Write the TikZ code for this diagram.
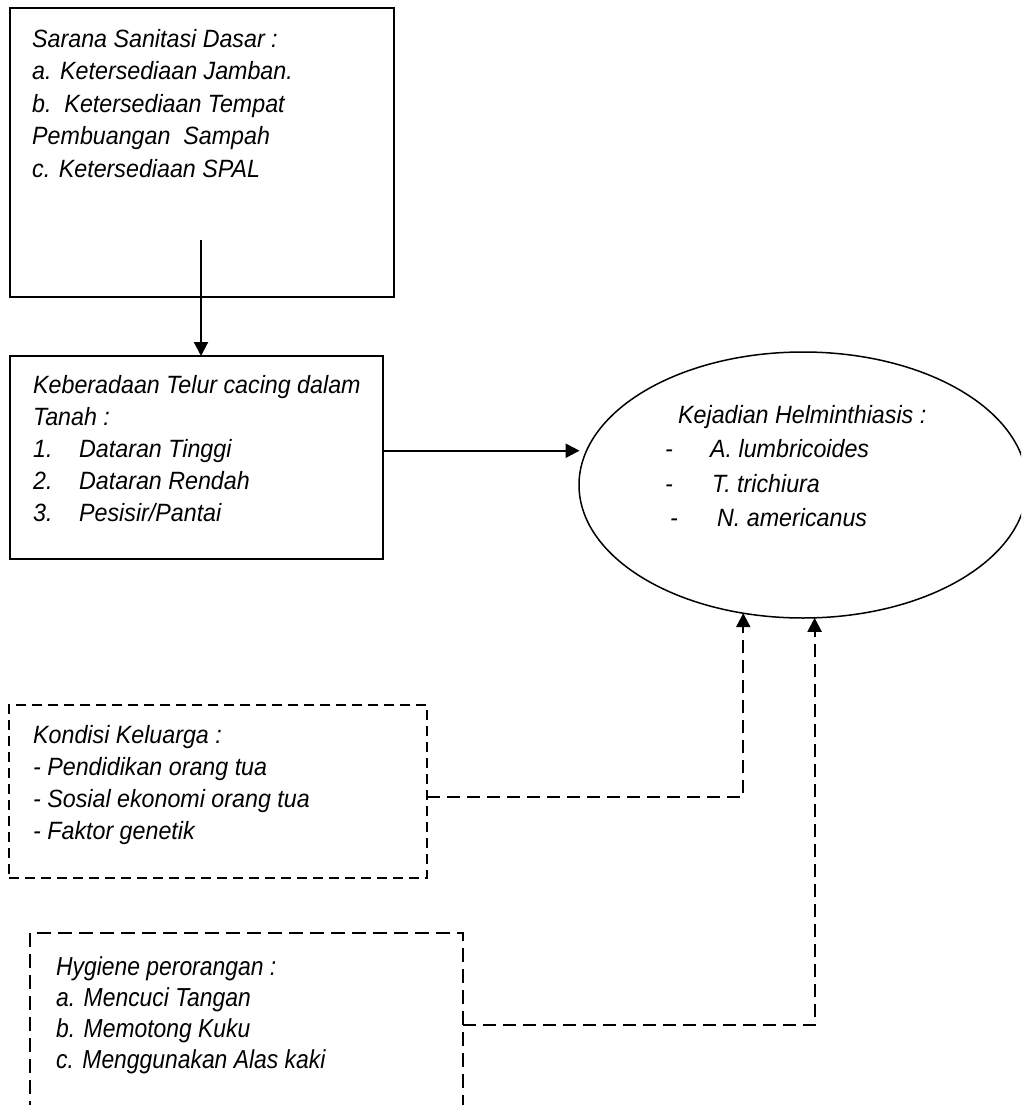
\documentclass[tikz,border=0pt]{standalone}
\usepackage{fontspec}
\setmainfont{Liberation Sans}[FakeStretch=0.93]
\newfontfamily\hyfont{Liberation Sans}[FakeStretch=0.88]
\usetikzlibrary{arrows.meta,shapes.geometric}
\begin{document}
\begin{tikzpicture}[x=1pt,y=-1pt,
  solidbox/.style={draw, line width=2.4pt, rectangle, inner sep=0pt, outer sep=0pt, anchor=north west},
  dashbox/.style={draw, line width=2.4pt, rectangle, inner sep=0pt, outer sep=0pt, anchor=north west, dash pattern=on 10pt off 6pt},
  longdashbox/.style={dashbox, dash pattern=on 14pt off 7pt},
  txt/.style={anchor=base west, align=left, inner sep=0pt, font=\fontsize{25}{32.5}\selectfont\itshape},
  arr/.style={line width=2.2pt, -{Triangle[length=14pt,width=14pt]}},
  darr/.style={line width=2.2pt, dash pattern=on 13pt off 7pt, -{Triangle[length=14pt,width=14pt]}},
]
\useasboundingbox (0,0) rectangle (1021,1105);
\clip (0,0) rectangle (1021,1105);

% boxes
\node[solidbox, minimum width=384pt, minimum height=289pt] (b1) at (10,8) {};
\node[solidbox, minimum width=373pt, minimum height=203pt] (b2) at (10,356) {};
\node[dashbox, minimum width=418pt, minimum height=173pt] (b3) at (9,705) {};
\node[longdashbox, minimum width=433pt, minimum height=184pt] (b4) at (30,933) {};
\node[ellipse, draw, line width=1.5pt, minimum width=448pt, minimum height=266pt, inner sep=0pt, outer sep=0pt] (ell) at (803,485) {};

% texts (anchor = baseline of the last line)
\node[txt] (t1) at (32,177) {Sarana Sanitasi Dasar :\\ a. Ketersediaan Jamban.\\ b.\ \ Ketersediaan Tempat\\ Pembuangan\ \ Sampah\\ c. Ketersediaan SPAL};
\node[txt, font=\fontsize{25}{32}\selectfont\itshape] (t2) at (33,521) {Keberadaan Telur cacing dalam\\ Tanah :\\ \makebox[46pt][l]{1.}Dataran Tinggi\\ \makebox[46pt][l]{2.}Dataran Rendah\\ \makebox[46pt][l]{3.}Pesisir/Pantai};
\node[txt, font=\fontsize{25}{32}\selectfont\itshape] (t3) at (33,839) {Kondisi Keluarga :\\ - Pendidikan orang tua\\ - Sosial ekonomi orang tua\\ - Faktor genetik};
\node[txt, font=\hyfont\fontsize{26}{31}\selectfont\itshape] (t4) at (56,1068) {Hygiene perorangan :\\ a. Mencuci Tangan\\ b. Memotong Kuku\\ c. Menggunakan Alas kaki};
\node[txt, font=\fontsize{25}{34.5}\selectfont\itshape] (te) at (665,526.5) {\hspace*{13pt}Kejadian Helminthiasis :\\ \makebox[45pt][l]{-}A. lumbricoides\\ \makebox[47pt][l]{-}T. trichiura\\ \hspace*{5pt}\makebox[47pt][l]{-}N. americanus};

% connectors
\coordinate (s1) at (201,240);
\draw[arr] (s1) -- (s1 |- b2.north);
\draw[arr, shorten >=7pt] (b2.east |- ell.171) -- (ell.171);
\draw[darr] ([yshift=-5.5pt]b3.east) -| (ell.245);
\draw[darr] (b4.east) -| (ell.275);
\end{tikzpicture}
\end{document}
